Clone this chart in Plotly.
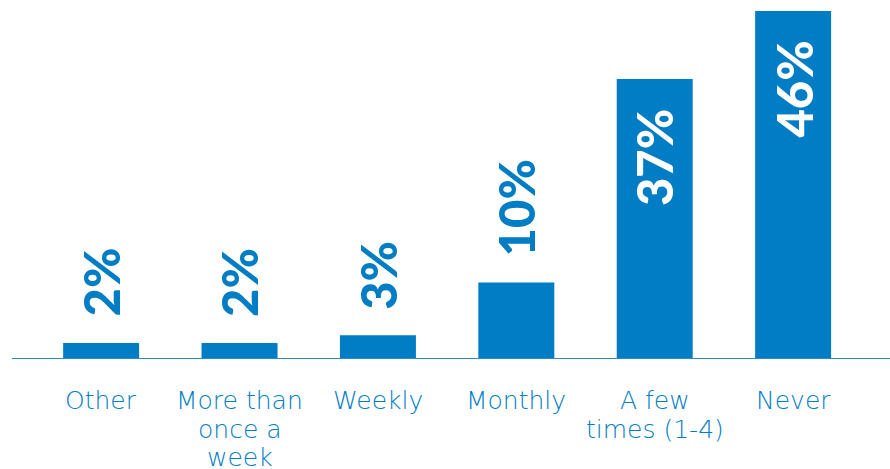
import plotly.graph_objects as go

categories = ["Other", "More than<br>once a<br>week", "Weekly", "Monthly", "A few<br>times (1-4)", "Never"]
values = [2, 2, 3, 10, 37, 46]
labels = ["2%", "2%", "3%", "10%", "37%", "46%"]

BLUE = "#007DC5"

fig = go.Figure(go.Bar(x=categories, y=values, marker_color=BLUE, marker_line_width=0,
                       hoverinfo="skip"))

inside_threshold = 20
for c, v, t in zip(categories, values, labels):
    inside = v >= inside_threshold
    fig.add_annotation(
        x=c, y=v, text=t, showarrow=False, textangle=-90,
        yanchor="top" if inside else "bottom",
        yshift=-28 if inside else 24,
        font=dict(family="Lato", size=49, color="white" if inside else BLUE, weight=900),
    )

# category labels, one annotation per line for tighter line spacing
LINE_STEP = 28.5
for c in categories:
    for i, line in enumerate(c.split("<br>")):
        fig.add_annotation(
            x=c, xref="x", y=0, yref="paper", text=line, showarrow=False,
            yanchor="top", xanchor="center", yshift=-26 - i * LINE_STEP,
            font=dict(family="DejaVu Sans", size=25, color=BLUE, weight=200),
        )

fig.update_layout(
    width=890, height=469,
    margin=dict(l=12, r=0, t=11, b=111, autoexpand=False),
    paper_bgcolor="white", plot_bgcolor="white",
    bargap=0.451,
    showlegend=False,
    hovermode=False,
)
fig.update_xaxes(
    range=[-0.644, 5.70], showline=True, linecolor="#2a8acb", linewidth=1,
    showgrid=False, ticks="", showticklabels=False, automargin=False,
)
fig.update_yaxes(range=[0, 46], visible=False, showgrid=False, automargin=False)

fig.write_html(
    "out.html",
    config={"displayModeBar": False, "staticPlot": True},
    post_script="document.body.style.margin='0';document.body.style.overflow='hidden';",
)
